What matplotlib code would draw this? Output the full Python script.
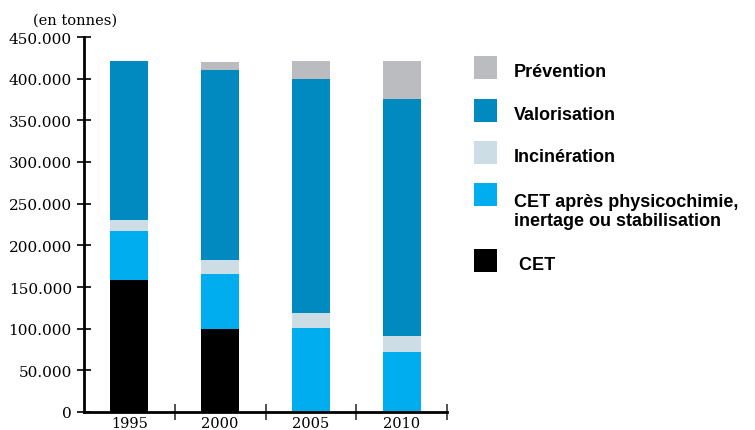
import matplotlib
matplotlib.use("Agg")
import matplotlib.pyplot as plt
from matplotlib.patches import Rectangle
from matplotlib.ticker import FuncFormatter

years = ["1995", "2000", "2005", "2010"]
cet = [159000, 100000, 0, 0]
cet_physico = [58500, 66000, 101000, 72500]
incineration = [13500, 17000, 18000, 19000]
valorisation = [190500, 228000, 281000, 284500]
prevention = [0, 9500, 21500, 45500]

series = [
    ("CET", cet, "#000000"),
    ("CET après physicochimie,\ninertage ou stabilisation", cet_physico, "#00AEEF"),
    ("Incinération", incineration, "#CCDDE5"),
    ("Valorisation", valorisation, "#008AC0"),
    ("Prévention", prevention, "#BBBCC0"),
]
yticks = list(range(0, 450001, 50000))

W, H = 755, 431
fig = plt.figure(figsize=(W / 100, H / 100), dpi=100)
ax = fig.add_axes([84 / W, (H - 413) / H, (447 - 84) / W, (413 - 38) / H])

x = list(range(len(years)))
bottom = [0] * len(years)
for name, vals, col in series:
    ax.bar(x, vals, width=0.42, bottom=bottom, color=col, linewidth=0)
    bottom = [b + v for b, v in zip(bottom, vals)]

ax.set_xlim(-0.5, 3.5)
ax.set_ylim(0, 450000)
for s in ["top", "right"]:
    ax.spines[s].set_visible(False)
for s in ["left", "bottom"]:
    ax.spines[s].set_linewidth(2)
    ax.spines[s].set_color("black")

serif = "DejaVu Serif"
ax.set_yticks(yticks)
ax.yaxis.set_major_formatter(FuncFormatter(lambda v, p: "0" if v == 0 else f"{int(v):,}".replace(",", ".")))
ax.tick_params(axis="y", direction="inout", length=9.5, width=1.2, pad=4, labelsize=11)
for lab in ax.get_yticklabels():
    lab.set_fontfamily(serif)

ax.set_xticks([0.5, 1.5, 2.5, 3.5])
ax.set_xticklabels([])
ax.set_xticks(x, minor=True)
ax.set_xticklabels(years, minor=True, fontfamily=serif, fontsize=10.5)
ax.tick_params(axis="x", which="major", direction="inout", length=11, width=1.2, color="#333333")
ax.tick_params(axis="x", which="minor", length=0, pad=3)

fig.text(117 / W, 1 - 21 / H, "(en tonnes)", ha="right", va="center", fontfamily=serif, fontsize=10.5)

# legend
leg_items = [
    ("Prévention", "#BBBCC0", 57, 72.5),
    ("Valorisation", "#008AC0", 100, 116),
    ("Incinération", "#CCDDE5", 142, 157),
    ("CET après physicochimie,\ninertage ou stabilisation", "#00AEEF", 184, 212),
    (" CET", "#000000", 250, 266),
]
for label, col, ytop, yc in leg_items:
    fig.add_artist(Rectangle((474 / W, 1 - (ytop + 23) / H), 23 / W, 23 / H,
                             transform=fig.transFigure, color=col, linewidth=0))
    fig.text(514 / W, 1 - yc / H, label, ha="left", va="center",
             fontfamily="Liberation Sans", fontweight="bold", fontsize=13,
             linespacing=1.2)

fig.savefig("out.png", dpi=100)
